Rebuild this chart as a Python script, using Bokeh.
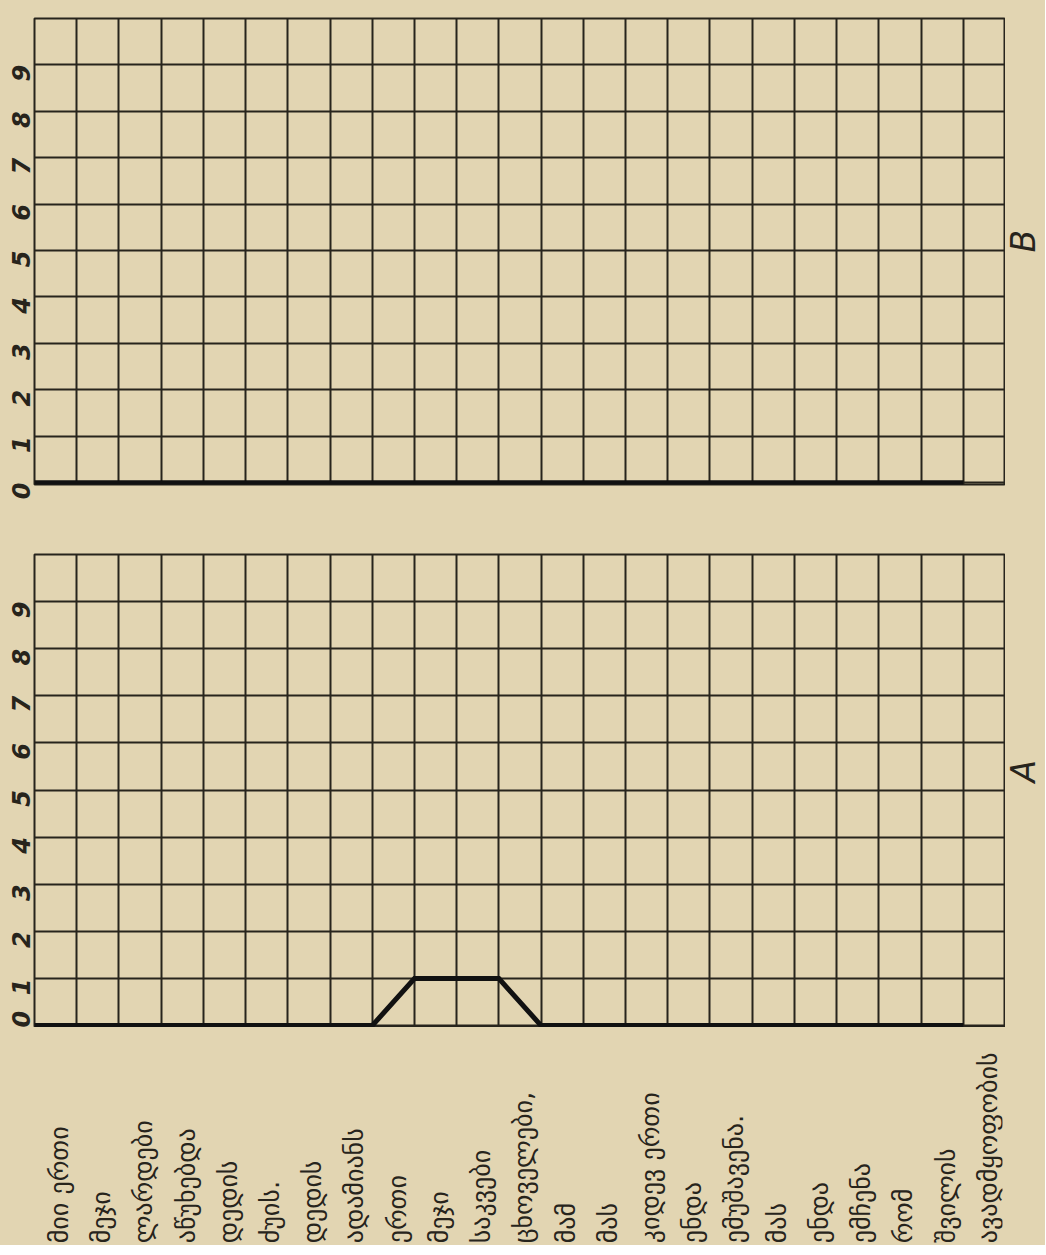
import math
from bokeh.plotting import figure
from bokeh.models import FixedTicker, Range1d
from bokeh.layouts import column, row
from bokeh.embed import file_html
from bokeh.resources import INLINE
from bokeh.core.properties import value

# ---- data ----
words = ["მიი ერთი", "მეჯი", "ლარდები", "აწუხებდა", "დედის", "ძუის.", "დედის",
         "ადამიანს", "ერთი", "მეჯი", "საკვები", "ცხოველები,", "მამ", "მას",
         "კიდევ ერთი", "ენდა", "ემუშავენა.", "მას", "ენდა", "ემჩენა", "რომ",
         "შვილის", "ავადმყოფობის"]
positions = list(range(len(words)))
values_A = [0, 0, 0, 0, 0, 0, 0, 0, 0, 1, 1, 1, 0, 0, 0, 0, 0, 0, 0, 0, 0, 0, 0]
values_B = [0, 0, 0, 0, 0, 0, 0, 0, 0, 0, 0, 0, 0, 0, 0, 0, 0, 0, 0, 0, 0, 0, 0]
y_ticks = [0, 1, 2, 3, 4, 5, 6, 7, 8, 9]
panel_names = ["B", "A"]

PAPER = "#e2d5b2"
INK = "#27241c"
FRAME_W = 971
LEFT = 31
STRIP_W = 40
n_cols = len(words)          # grid columns (one extra empty column at right)


def panel(vals, frame_h, top, bottom, x_range=None):
    p = figure(frame_width=FRAME_W, frame_height=frame_h,
               x_range=x_range if x_range is not None else Range1d(0, n_cols),
               y_range=Range1d(-0.04, 10),
               output_backend="svg", toolbar_location=None,
               min_border_left=LEFT, min_border_right=0,
               min_border_top=top, min_border_bottom=bottom)
    p.background_fill_color = PAPER
    p.border_fill_color = PAPER
    p.outline_line_color = INK
    p.outline_line_width = 2
    p.xaxis.visible = False
    p.xgrid.ticker = FixedTicker(ticks=list(range(n_cols + 1)))
    p.xgrid.grid_line_color = INK
    p.xgrid.grid_line_width = 2
    yax = p.yaxis[0]
    yax.ticker = FixedTicker(ticks=y_ticks)
    yax.axis_line_color = None
    yax.major_tick_line_color = None
    yax.minor_tick_line_color = None
    yax.major_label_standoff = 7
    yax.major_label_orientation = math.pi / 2
    yax.major_label_text_font = "DejaVu Sans"
    yax.major_label_text_font_style = "bold italic"
    yax.major_label_text_font_size = "24px"
    yax.major_label_text_color = INK
    p.ygrid.grid_line_color = INK
    p.ygrid.grid_line_width = 2
    p.line(positions, vals, line_width=5, line_color="#111111", line_join="miter")
    return p


def strip(name, ref, label_y):
    s = figure(frame_width=STRIP_W, frame_height=ref.frame_height,
               x_range=Range1d(0, 1), y_range=ref.y_range,
               output_backend="svg", toolbar_location=None,
               min_border_left=0, min_border_right=0,
               min_border_top=ref.min_border_top,
               min_border_bottom=ref.min_border_bottom)
    s.background_fill_color = PAPER
    s.border_fill_color = PAPER
    s.outline_line_color = None
    s.axis.visible = False
    s.grid.visible = False
    s.text(x=[0.45], y=[label_y], text=[name], angle=math.pi / 2,
           text_align="center", text_baseline="middle",
           text_font=value("DejaVu Sans"), text_font_style="italic",
           text_font_size="33px", text_color=INK)
    return s


pB = panel(values_B, 466, 18, 30)
pA = panel(values_A, 473, 40, 0)
sB = strip(panel_names[0], pB, 5.2)
sA = strip(panel_names[1], pA, 5.4)

pL = figure(frame_width=FRAME_W, frame_height=218, x_range=pA.x_range,
            y_range=Range1d(0, 1), output_backend="svg", toolbar_location=None,
            min_border_left=LEFT, min_border_right=STRIP_W, min_border_top=0,
            min_border_bottom=0)
pL.background_fill_color = PAPER
pL.border_fill_color = PAPER
pL.outline_line_color = None
pL.axis.visible = False
pL.grid.visible = False
pL.text(x=[k + 0.65 for k in positions], y=[0.01] * len(words), text=words,
        angle=math.pi / 2, text_align="left", text_baseline="middle",
        text_font=value("DejaVu Sans"), text_font_size="26px", text_color=INK)

layout = column(row(pB, sB, spacing=0), row(pA, sA, spacing=0), pL,
                spacing=0, background=PAPER)
open("out.html", "w").write(file_html(layout, INLINE))
